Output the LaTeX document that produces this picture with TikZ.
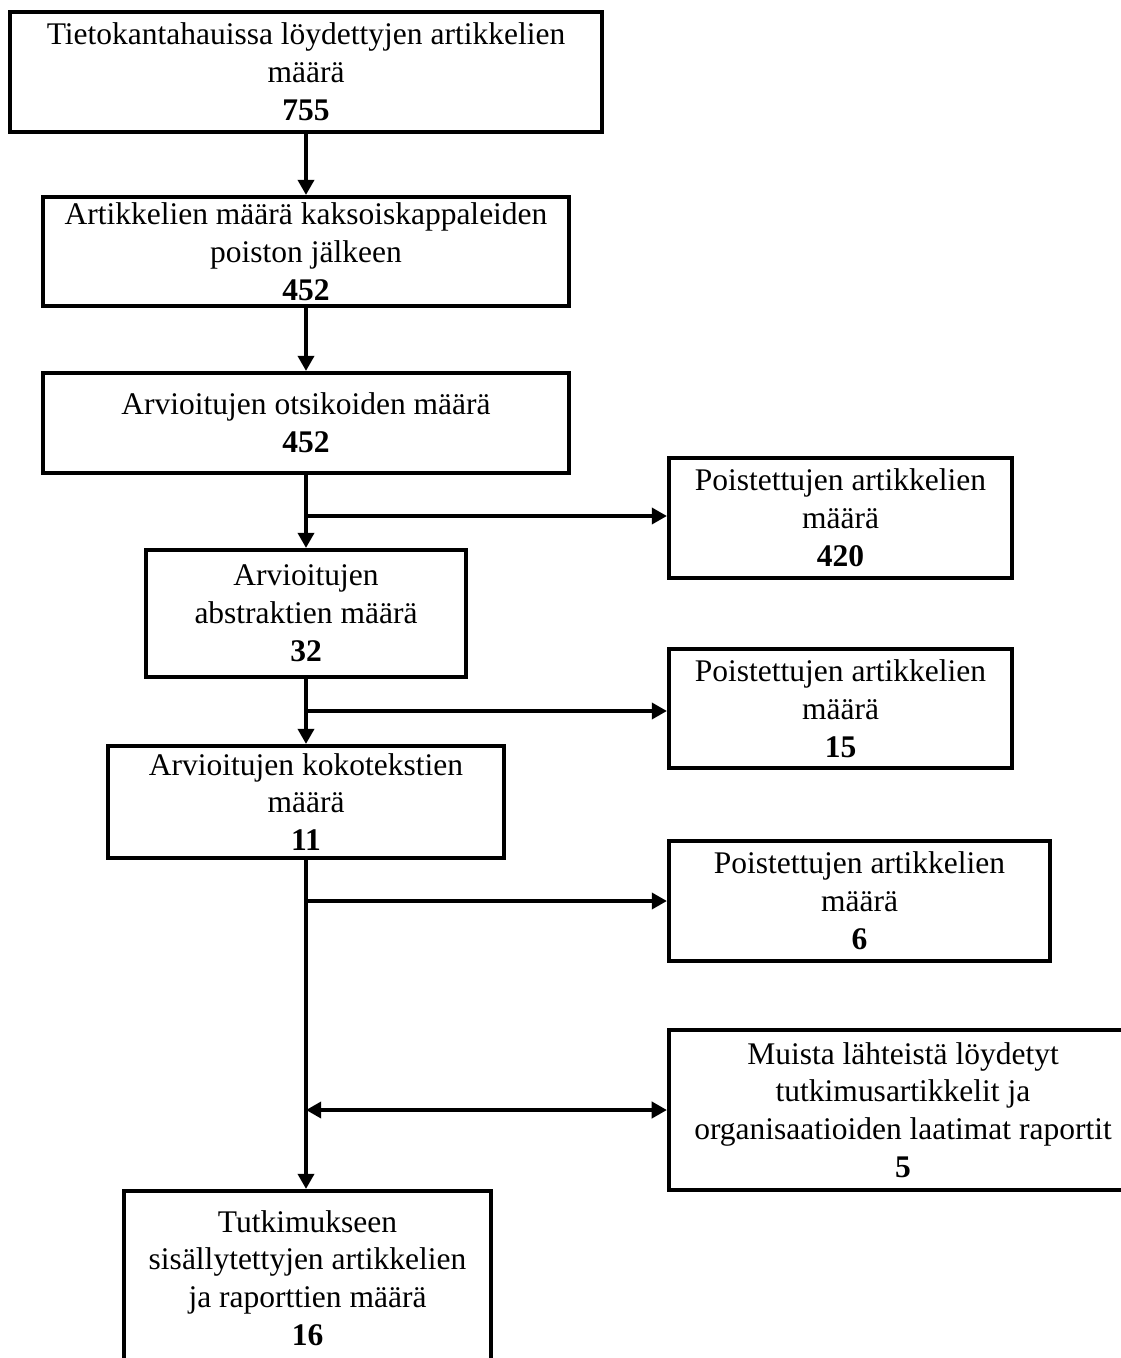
\documentclass[tikz,border=0pt]{standalone}
\usepackage{fontspec}
\setmainfont{Liberation Serif}
\usetikzlibrary{arrows.meta,positioning}
\tikzset{
  flowbox/.style={draw=black,fill=white,line width=1mm,
                  align=center,inner sep=2pt,
                  font=\fontsize{22.4}{26.9}\selectfont},
  flowarr/.style={-{Triangle[length=3.8mm,width=4mm]},line width=1mm},
  duoarr/.style={{Triangle[length=3.8mm,width=4mm]}-{Triangle[length=3.8mm,width=4mm]},line width=1mm}
}

\begin{document}
\begin{tikzpicture}[x=0.025cm,y=-0.025cm]
  \useasboundingbox[fill=white] (0,0) rectangle (1120,1358);
  % main column
  \node[flowbox,minimum width=14.8cm,minimum height=3cm] (found) at (306,72)
    {Tietokantahauissa löydettyjen artikkelien\\määrä\\\textbf{755}};
  \node[flowbox,minimum width=13.125cm,minimum height=2.725cm] (dedup) at (306,251.5)
    {Artikkelien määrä kaksoiskappaleiden\\poiston jälkeen\\\textbf{452}};
  \node[flowbox,minimum width=13.125cm,minimum height=2.5cm] (titles) at (306,423)
    {Arvioitujen otsikoiden määrä\\\textbf{452}};
  \node[flowbox,minimum width=8cm,minimum height=3.175cm] (abstr) at (306,613.5)
    {Arvioitujen\\abstraktien määrä\\\textbf{32}};
  \node[flowbox,minimum width=9.875cm,minimum height=2.8cm] (full) at (306,802)
    {Arvioitujen kokotekstien\\määrä\\\textbf{11}};
  \node[flowbox,minimum width=9.175cm,minimum height=4.35cm] (incl) at (307.5,1278)
    {Tutkimukseen\\sisällytettyjen artikkelien\\ja raporttien määrä\\\textbf{16}};
  % side column
  \node[flowbox,minimum width=8.575cm,minimum height=3cm] (outA) at (840.5,518)
    {Poistettujen artikkelien\\määrä\\\textbf{420}};
  \node[flowbox,minimum width=8.575cm,minimum height=2.975cm] (outB) at (840.5,708.5)
    {Poistettujen artikkelien\\määrä\\\textbf{15}};
  \node[flowbox,minimum width=9.525cm,minimum height=3cm] (outC) at (859.5,901)
    {Poistettujen artikkelien\\määrä\\\textbf{6}};
  \node[flowbox,minimum width=11.7cm,minimum height=4cm] (other) at (903,1110)
    {Muista lähteistä löydetyt\\tutkimusartikkelit ja\\organisaatioiden laatimat raportit\\\textbf{5}};
  % junctions on the main line
  \coordinate (jA) at (306,516);
  \coordinate (jB) at (306,711);
  \coordinate (jC) at (306,901);
  \coordinate (jD) at (306,1110);
  % connectors
  \draw[flowarr] (found) -- (dedup);
  \draw[flowarr] (dedup) -- (titles);
  \draw[flowarr] (titles) -- (abstr);
  \draw[flowarr] (abstr) -- (full);
  \draw[flowarr] (full.south) -- (full.south |- incl.north);
  \draw[flowarr] (jA) -- (jA -| outA.west);
  \draw[flowarr] (jB) -- (jB -| outB.west);
  \draw[flowarr] (jC) -- (jC -| outC.west);
  \draw[duoarr] (jD) -- (jD -| other.west);
\end{tikzpicture}
\end{document}
